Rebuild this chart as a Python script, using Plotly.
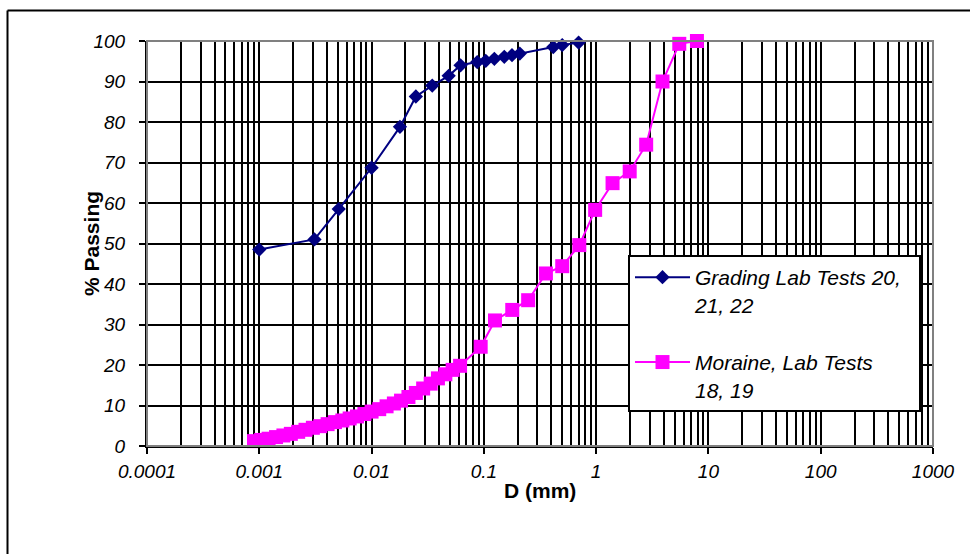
import plotly.graph_objects as go

# ---- data ----
grading_d = [0.001, 0.0031, 0.0051, 0.01, 0.0179, 0.0248, 0.0347, 0.0486, 0.062,
             0.0873, 0.104, 0.124, 0.152, 0.178, 0.209, 0.415, 0.499, 0.698]
grading_p = [48.5, 51.0, 58.5, 68.7, 78.8, 86.3, 89.0, 91.4, 94.0,
             94.8, 95.1, 95.6, 96.1, 96.5, 96.9, 98.5, 99.0, 99.6]

moraine_d = [0.000897, 0.00104, 0.00121, 0.00141, 0.00164, 0.00191, 0.00222, 0.00258,
             0.00300, 0.00349, 0.00406, 0.00472, 0.00549, 0.00638, 0.00742, 0.00863,
             0.0100, 0.0117, 0.0136, 0.0158, 0.0183, 0.0213, 0.0248, 0.0288, 0.0336,
             0.0390, 0.0454, 0.0527, 0.0614,
             0.0937, 0.1256, 0.179, 0.248, 0.357, 0.499, 0.708, 0.98, 1.40, 1.99,
             2.79, 3.9, 5.5, 7.9]
moraine_p = [1.2, 1.5, 1.8, 2.2, 2.6, 3.0, 3.5, 4.0,
             4.5, 4.9, 5.4, 5.9, 6.3, 6.8, 7.3, 7.9,
             8.5, 9.1, 9.8, 10.5, 11.2, 12.1, 13.1, 14.2, 15.4,
             16.7, 17.7, 18.8, 19.8,
             24.5, 31.0, 33.6, 36.0, 42.6, 44.4, 49.6, 58.3, 64.9, 67.8,
             74.4, 90.0, 99.3, 100.0]

series_names = ["Grading Lab Tests 20,\u00a0\u00a0<br>21, 22<br> ", "Moraine, Lab Tests<br>18, 19"]
x_tick_vals = [0.0001, 0.001, 0.01, 0.1, 1, 10, 100, 1000]
x_tick_text = ["0.0001", "0.001", "0.01", "0.1", "1", "10", "100", "1000"]
y_tick_vals = [0, 10, 20, 30, 40, 50, 60, 70, 80, 90, 100]

FONT = "Arial, Liberation Sans, sans-serif"

fig = go.Figure()
fig.add_trace(go.Scatter(
    x=grading_d, y=grading_p, mode="lines+markers", name=series_names[0],
    line=dict(color="#000080", width=2),
    marker=dict(symbol="diamond", size=11, color="#000080", line=dict(width=0)),
    cliponaxis=False))
fig.add_trace(go.Scatter(
    x=moraine_d, y=moraine_p, mode="lines+markers", name=series_names[1],
    line=dict(color="#FF00FF", width=2),
    marker=dict(symbol="square", size=14, color="#FF00FF", line=dict(width=0)),
    cliponaxis=False))

L, R, T, B = 147, 37, 41, 108
W, H = 970, 554
pw, ph = W - L - R, H - T - B

def px_x(p):
    return (p - L) / pw

def px_y(p):
    return (H - B - p) / ph

fig.update_layout(
    width=W, height=H,
    margin=dict(l=L, r=R, t=T, b=B, pad=0),
    paper_bgcolor="white", plot_bgcolor="white",
    font=dict(family=FONT, size=19, color="black"),
    showlegend=True,
    legend=dict(
        x=px_x(628), y=px_y(255), xanchor="left", yanchor="top",
        bgcolor="white", bordercolor="black", borderwidth=2,
        font=dict(family=FONT, size=21, color="black", style="italic"),
        itemwidth=55, traceorder="normal", valign="top",
    ),
    xaxis=dict(
        type="log", range=[-4, 3],
        tickvals=x_tick_vals, ticktext=x_tick_text,
        tickfont=dict(family=FONT, size=19, style="italic"),
        showgrid=True, gridcolor="black", gridwidth=2,
        minor=dict(dtick="D1", showgrid=True, gridcolor="black", gridwidth=2, ticks=""),
        showline=True, linecolor="black", linewidth=2,
        ticks="outside", ticklen=6, tickwidth=2, tickcolor="black",
        ticklabelstandoff=1,
        zeroline=False,
    ),
    yaxis=dict(
        range=[0, 100], tickvals=y_tick_vals,
        tickfont=dict(family=FONT, size=19, style="italic"),
        showgrid=True, gridcolor="black", gridwidth=2,
        showline=True, linecolor="black", linewidth=2,
        ticks="outside", ticklen=6, tickwidth=2, tickcolor="black",
        ticklabelstandoff=10,
        zeroline=False,
    ),
    shapes=[
        dict(type="rect", xref="paper", yref="paper", x0=0, x1=1, y0=0, y1=1,
             line=dict(color="#808080", width=2), layer="above"),
        dict(type="rect", xref="paper", yref="paper",
             x0=px_x(955), x1=px_x(975), y0=px_y(14), y1=px_y(560),
             fillcolor="white", line=dict(width=0), layer="above"),
        dict(type="line", xref="paper", yref="paper",
             x0=px_x(7.5), x1=px_x(972), y0=px_y(10.5), y1=px_y(10.5),
             line=dict(color="black", width=2), layer="above"),
        dict(type="line", xref="paper", yref="paper",
             x0=px_x(7.5), x1=px_x(7.5), y0=px_y(10.5), y1=px_y(556),
             line=dict(color="black", width=2), layer="above"),
    ],
    annotations=[
        dict(text="<b>% Passing</b>", xref="paper", yref="paper",
             x=px_x(91), y=px_y(244), textangle=-90, showarrow=False,
             font=dict(family=FONT, size=21, color="black"),
             xanchor="center", yanchor="middle"),
        dict(text="<b>D (mm)</b>", xref="paper", yref="paper",
             x=px_x(540), y=px_y(490), showarrow=False,
             font=dict(family=FONT, size=21, color="black"),
             xanchor="center", yanchor="middle"),
    ],
)

fig.write_html("out.html")
